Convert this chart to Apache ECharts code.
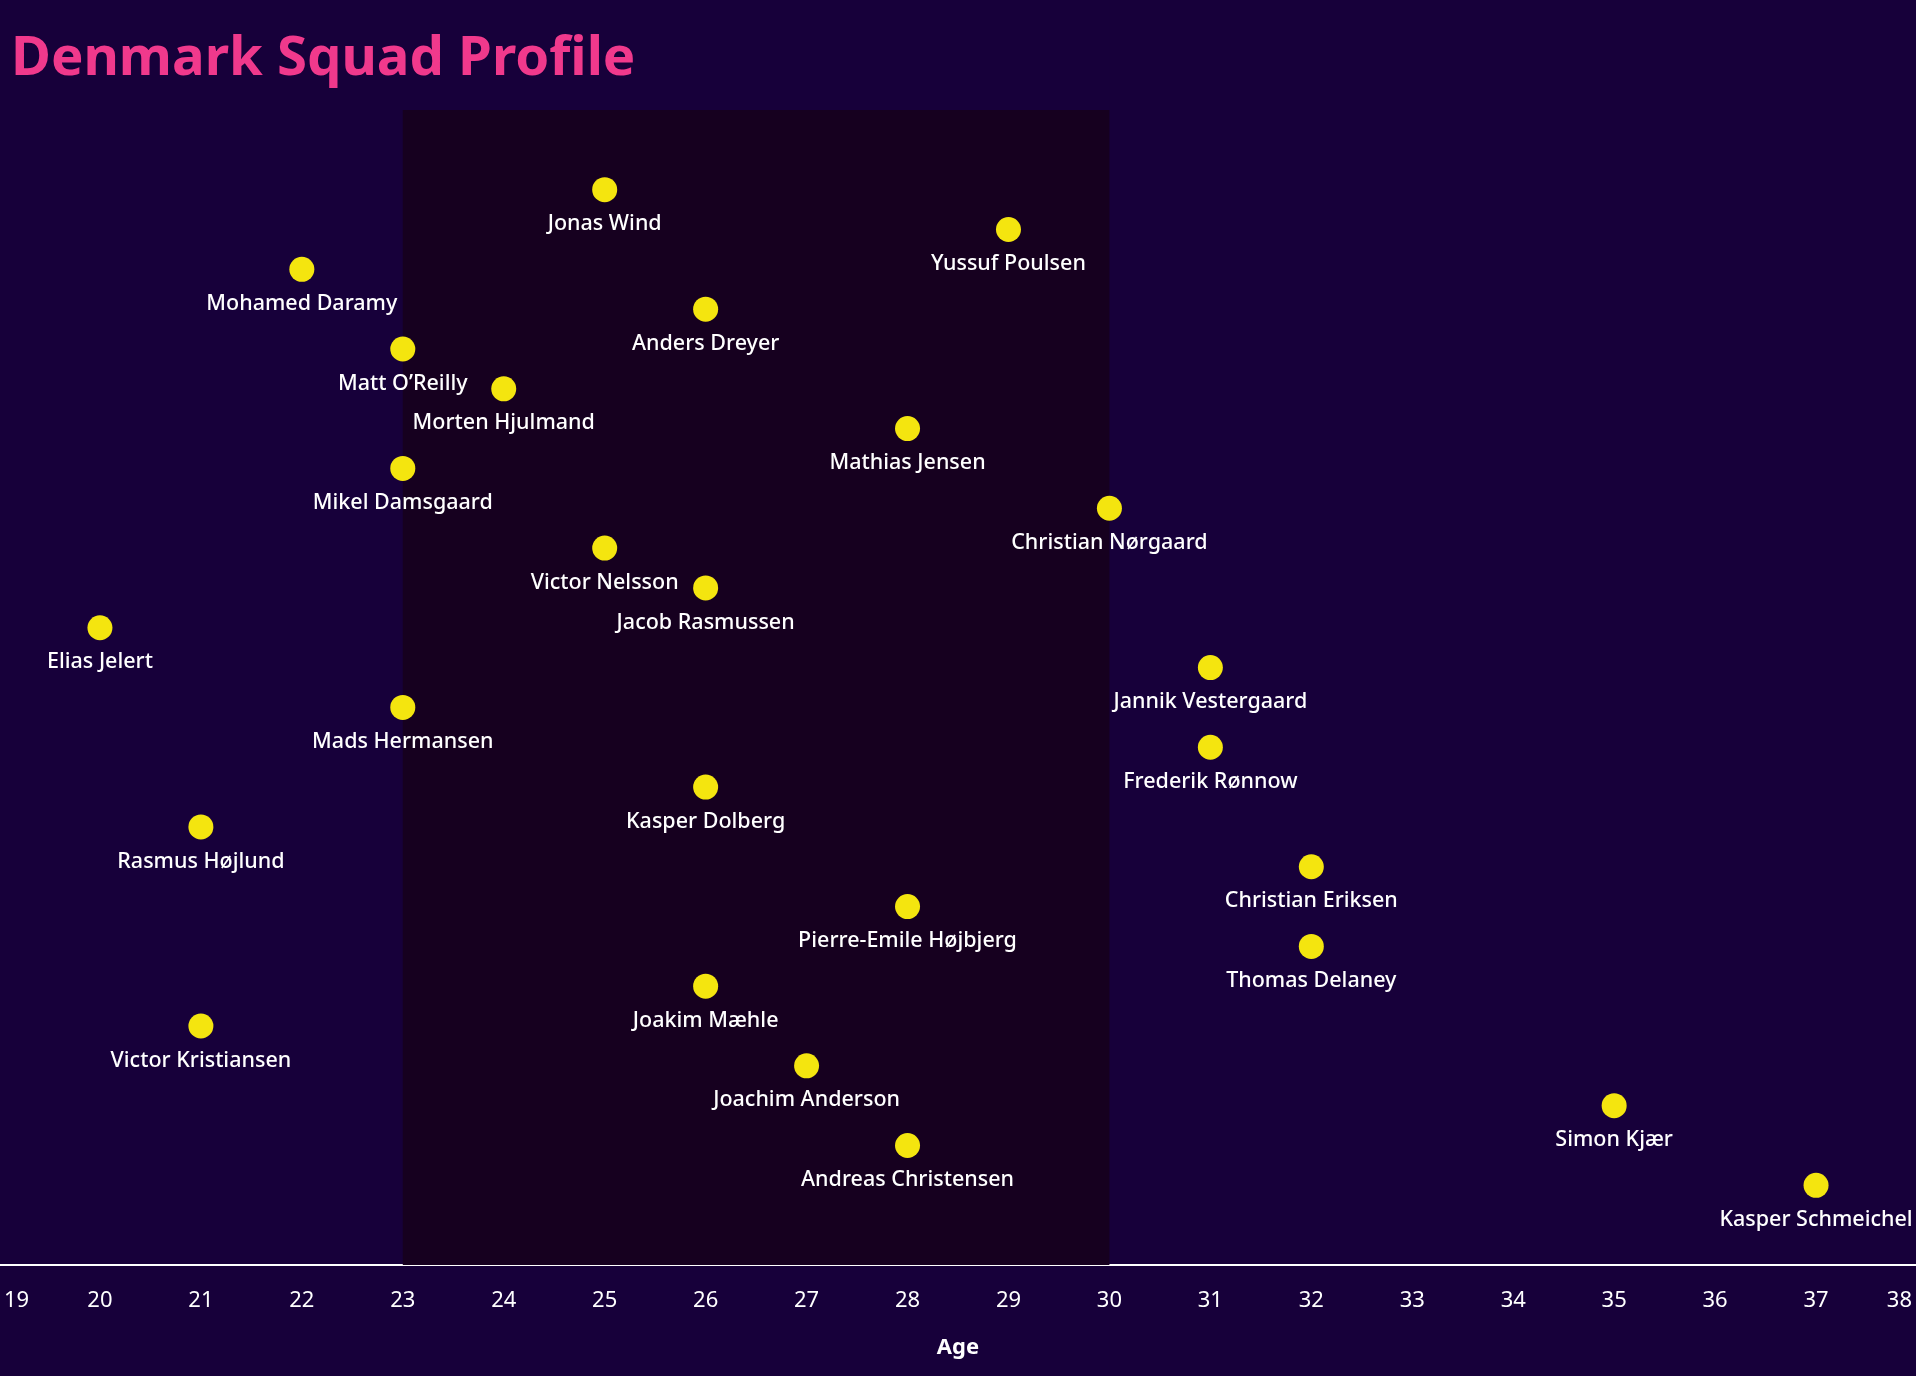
<!DOCTYPE html>
<html>
<head>
<meta charset="utf-8">
<title>Denmark Squad Profile</title>
<script src="https://cdn.jsdelivr.net/npm/echarts@6/dist/echarts.min.js"></script>
<style>
  html, body { margin: 0; padding: 0; background: #17003a; }
  #chart { width: 1916px; height: 1376px; }
</style>
</head>
<body>
<div id="chart"></div>
<script>
// players, top to bottom
const players = [
  'Jonas Wind', 'Yussuf Poulsen', 'Mohamed Daramy', 'Anders Dreyer', 'Matt O\u2019Reilly',
  'Morten Hjulmand', 'Mathias Jensen', 'Mikel Damsgaard', 'Christian Nørgaard', 'Victor Nelsson',
  'Jacob Rasmussen', 'Elias Jelert', 'Jannik Vestergaard', 'Mads Hermansen', 'Frederik Rønnow',
  'Kasper Dolberg', 'Rasmus Højlund', 'Christian Eriksen', 'Pierre-Emile Højbjerg', 'Thomas Delaney',
  'Joakim Mæhle', 'Victor Kristiansen', 'Joachim Anderson', 'Simon Kjær', 'Andreas Christensen',
  'Kasper Schmeichel'
];
const ages = [
  25, 29, 22, 26, 23,
  24, 28, 23, 30, 25,
  26, 20, 31, 23, 31,
  26, 21, 32, 28, 32,
  26, 21, 27, 35, 28,
  37
];
const slots = [
  1, 2, 3, 4, 5, 6, 7, 8, 9, 10, 11, 12, 13,
  14, 15, 16, 17, 18, 19, 20, 21, 22, 23, 24, 25, 26
];
// peak age band
const peakBand = [23, 30];

const font = 'Noto Sans';

const chart = echarts.init(document.getElementById('chart'), null, { renderer: 'canvas' });

const points = players.map((name, i) => ({ name: name, value: [ages[i], slots[i]] }));

const option = {
  backgroundColor: '#17003a',
  animation: false,
  title: {
    text: 'Denmark Squad Profile',
    left: 6,
    top: 27,
    textStyle: {
      color: '#f0398c',
      fontFamily: font,
      fontSize: 54.5,
      fontWeight: 'bold'
    }
  },
  grid: {
    left: -1,
    right: -1,
    top: 110,
    bottom: 111,
    outerBoundsMode: 'none'
  },
  xAxis: {
    type: 'value',
    min: 19,
    max: 38,
    interval: 1,
    name: 'Age',
    nameLocation: 'middle',
    nameGap: 72,
    nameTextStyle: {
      color: '#ffffff',
      fontFamily: font,
      fontSize: 22,
      fontWeight: 'bold'
    },
    splitLine: { show: false },
    axisTick: { show: false },
    axisLine: {
      show: true,
      onZero: false,
      lineStyle: { color: '#ffffff', width: 2 }
    },
    axisLabel: {
      color: '#ffffff',
      fontFamily: font,
      fontSize: 22,
      margin: 25,
      padding: [0, 5, 0, 5],
      alignMinLabel: 'left',
      alignMaxLabel: 'right'
    }
  },
  yAxis: {
    type: 'value',
    inverse: true,
    min: -1,
    max: 28,
    show: false,
    splitLine: { show: false }
  },
  series: [
    {
      type: 'scatter',
      data: points,
      symbolSize: 25,
      itemStyle: { color: '#f4e50f', opacity: 1 },
      label: {
        show: true,
        position: 'bottom',
        distance: 11,
        formatter: p => p.name,
        color: '#ffffff',
        fontFamily: font,
        fontSize: 21.5,
        fontWeight: 500
      },
      markArea: {
        silent: true,
        itemStyle: { color: '#16001f' },
        data: [[{ xAxis: peakBand[0] }, { xAxis: peakBand[1] }]]
      },
      z: 3
    }
  ]
};

chart.setOption(option);
</script>
</body>
</html>
